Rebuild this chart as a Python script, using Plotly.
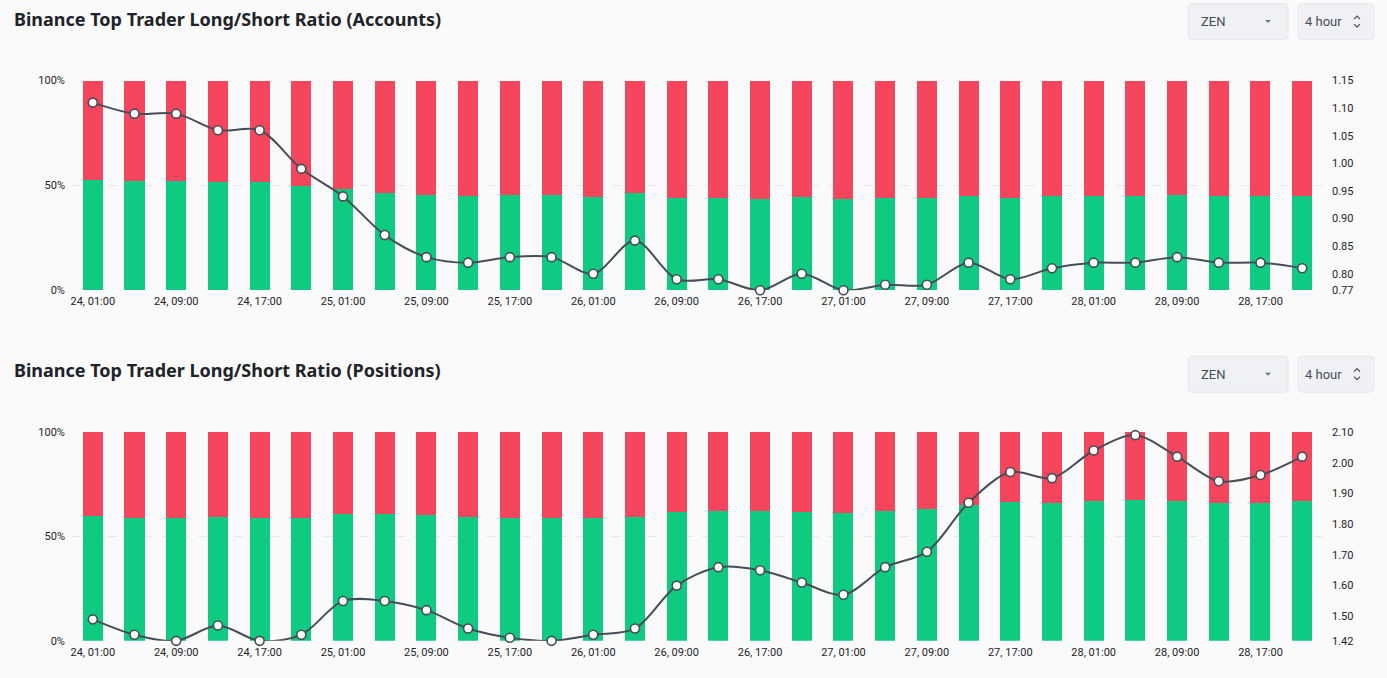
import plotly.graph_objects as go

W, H = 1387, 678

categories = ["24, 01:00", "24, 05:00", "24, 09:00", "24, 13:00", "24, 17:00", "24, 21:00",
              "25, 01:00", "25, 05:00", "25, 09:00", "25, 13:00", "25, 17:00", "25, 21:00",
              "26, 01:00", "26, 05:00", "26, 09:00", "26, 13:00", "26, 17:00", "26, 21:00",
              "27, 01:00", "27, 05:00", "27, 09:00", "27, 13:00", "27, 17:00", "27, 21:00",
              "28, 01:00", "28, 05:00", "28, 09:00", "28, 13:00", "28, 17:00", "28, 21:00"]
x_tick_labels = ["24, 01:00", "24, 09:00", "24, 17:00", "25, 01:00", "25, 09:00", "25, 17:00",
                 "26, 01:00", "26, 09:00", "26, 17:00", "27, 01:00", "27, 09:00", "27, 17:00",
                 "28, 01:00", "28, 09:00", "28, 17:00"]

# Chart 1: accounts
acc_long = [52.6, 52.2, 52.2, 51.5, 51.5, 49.7, 48.5, 46.5, 45.4, 45.1, 45.4, 45.4, 44.4, 46.2, 44.1,
            44.1, 43.5, 44.4, 43.5, 43.8, 43.8, 45.1, 44.1, 44.8, 45.1, 45.1, 45.4, 45.1, 45.1, 44.8]
acc_short = [47.4, 47.8, 47.8, 48.5, 48.5, 50.3, 51.5, 53.5, 54.6, 54.9, 54.6, 54.6, 55.6, 53.8, 55.9,
             55.9, 56.5, 55.6, 56.5, 56.2, 56.2, 54.9, 55.9, 55.2, 54.9, 54.9, 54.6, 54.9, 54.9, 55.2]
acc_ratio = [1.11, 1.09, 1.09, 1.06, 1.06, 0.99, 0.94, 0.87, 0.83, 0.82, 0.83, 0.83, 0.80, 0.86, 0.79,
             0.79, 0.77, 0.80, 0.77, 0.78, 0.78, 0.82, 0.79, 0.81, 0.82, 0.82, 0.83, 0.82, 0.82, 0.81]
acc_ratio_ticks = [0.77, 0.80, 0.85, 0.90, 0.95, 1.00, 1.05, 1.10, 1.15]

# Chart 2: positions
pos_long = [59.8, 59.0, 58.7, 59.5, 58.7, 59.0, 60.8, 60.8, 60.3, 59.3, 58.8, 58.7, 59.0, 59.3, 61.5,
            62.4, 62.3, 61.7, 61.1, 62.4, 63.1, 65.2, 66.3, 66.1, 67.1, 67.6, 66.9, 66.0, 66.2, 66.9]
pos_short = [40.2, 41.0, 41.3, 40.5, 41.3, 41.0, 39.2, 39.2, 39.7, 40.7, 41.2, 41.3, 41.0, 40.7, 38.5,
             37.6, 37.7, 38.3, 38.9, 37.6, 36.9, 34.8, 33.7, 33.9, 32.9, 32.4, 33.1, 34.0, 33.8, 33.1]
pos_ratio = [1.49, 1.44, 1.42, 1.47, 1.42, 1.44, 1.55, 1.55, 1.52, 1.46, 1.43, 1.42, 1.44, 1.46, 1.60,
             1.66, 1.65, 1.61, 1.57, 1.66, 1.71, 1.87, 1.97, 1.95, 2.04, 2.09, 2.02, 1.94, 1.96, 2.02]
pos_ratio_ticks = [1.42, 1.50, 1.60, 1.70, 1.80, 1.90, 2.00, 2.10]

pct_ticks = [0, 50, 100]
pct_labels = ["0%", "50%", "100%"]

titles = ["Binance Top Trader Long/Short Ratio (Accounts)",
          "Binance Top Trader Long/Short Ratio (Positions)"]
symbol = "ZEN"
interval = "4 hour"

GREEN = "#0ecb81"
RED = "#f6465d"
LINE = "#474d57"
BG = "#fafafa"
TICK_FONT = dict(family="Roboto, DejaVu Sans", size=11, color="#1e2329")


def px(x):
    return x / W


def py(y):
    yd = (y - 5.4) / 0.982
    return 1 - yd / H


fig = go.Figure()

panels = [
    dict(long=acc_long, short=acc_short, ratio=acc_ratio, rticks=acc_ratio_ticks,
         rrange=[0.77, 1.15], top=80, bottom=290, title_y=18, box_y=(3, 39)),
    dict(long=pos_long, short=pos_short, ratio=pos_ratio, rticks=pos_ratio_ticks,
         rrange=[1.42, 2.10], top=432, bottom=641, title_y=370, box_y=(356, 392)),
]

x_left, x_right = 71, 1323
shapes = []
annotations = []

for i, p in enumerate(panels):
    xa = "x" if i == 0 else "x2"
    ya_l = "y" if i == 0 else "y3"
    ya_r = "y2" if i == 0 else "y4"
    fig.add_trace(go.Bar(x=categories, y=p["long"], marker=dict(color=GREEN, line=dict(width=0)),
                         xaxis=xa, yaxis=ya_l, name="Long", showlegend=False, hoverinfo="skip"))
    fig.add_trace(go.Bar(x=categories, y=p["short"], marker=dict(color=RED, line=dict(width=0)),
                         xaxis=xa, yaxis=ya_l, name="Short", showlegend=False, hoverinfo="skip"))
    fig.add_trace(go.Scatter(x=categories, y=p["ratio"], mode="lines+markers",
                             line=dict(color=LINE, width=2, shape="spline", smoothing=0.9),
                             marker=dict(size=9, color="white", line=dict(color=LINE, width=1.6)),
                             cliponaxis=False, xaxis=xa, yaxis=ya_r, showlegend=False,
                             hoverinfo="skip"))

    dom_y = [py(p["bottom"]), py(p["top"])]
    xkey = "xaxis" if i == 0 else "xaxis2"
    ylkey = "yaxis" if i == 0 else "yaxis3"
    yrkey = "yaxis2" if i == 0 else "yaxis4"
    fig.layout[xkey] = dict(domain=[px(x_left), px(x_right)], anchor=ya_l, type="category",
                            range=[-0.5, len(categories) - 0.5], tickmode="array",
                            tickvals=x_tick_labels, ticktext=x_tick_labels, tickfont=TICK_FONT,
                            showgrid=False, showline=False, zeroline=False, ticks="",
                            ticklabelstandoff=3, fixedrange=True)
    fig.layout[ylkey] = dict(domain=dom_y, anchor=xa, range=[0, 100], tickmode="array",
                             tickvals=pct_ticks, ticktext=pct_labels, tickfont=TICK_FONT,
                             showgrid=True, gridcolor="#e6e8ea", griddash="dash", gridwidth=1,
                             zeroline=False, showline=False, ticks="", ticklabelstandoff=6,
                             fixedrange=True)
    fig.layout[yrkey] = dict(domain=dom_y, anchor=xa, overlaying=ya_l, side="right",
                             range=p["rrange"], tickmode="array", tickvals=p["rticks"],
                             tickformat=".2f", tickfont=TICK_FONT, showgrid=False,
                             zeroline=False, showline=False, ticks="", ticklabelstandoff=8,
                             fixedrange=True)

    annotations.append(dict(text="<b>" + titles[i] + "</b>", x=px(11), y=py(p["title_y"]),
                            xref="paper", yref="paper", xanchor="left", yanchor="middle",
                            showarrow=False,
                            font=dict(family="Noto Sans, Open Sans", size=18, color="#1e2329")))

    # dropdown boxes
    y0, y1 = p["box_y"]
    for (bx0, bx1) in [(1188, 1288), (1298, 1374)]:
        r = 4
        pts = [
            f"M{px(bx0 + r)},{py(y0)}", f"L{px(bx1 - r)},{py(y0)}",
            f"Q{px(bx1)},{py(y0)} {px(bx1)},{py(y0 + r)}", f"L{px(bx1)},{py(y1 - r)}",
            f"Q{px(bx1)},{py(y1)} {px(bx1 - r)},{py(y1)}", f"L{px(bx0 + r)},{py(y1)}",
            f"Q{px(bx0)},{py(y1)} {px(bx0)},{py(y1 - r)}", f"L{px(bx0)},{py(y0 + r)}",
            f"Q{px(bx0)},{py(y0)} {px(bx0 + r)},{py(y0)}", "Z",
        ]
        shapes.append(dict(type="path", xref="paper", yref="paper", path=" ".join(pts),
                           fillcolor="#eff1f4", line=dict(color="#e3e6ea", width=1), layer="below"))
    cy = (y0 + y1) / 2
    annotations.append(dict(text=symbol, x=px(1199), y=py(cy), xref="paper", yref="paper",
                            xanchor="left", yanchor="middle", showarrow=False,
                            font=dict(family="Roboto", size=13, color="#474d57")))
    annotations.append(dict(text=interval, x=px(1303), y=py(cy), xref="paper", yref="paper",
                            xanchor="left", yanchor="middle", showarrow=False,
                            font=dict(family="Roboto", size=13, color="#474d57")))
    # small caret for symbol box
    shapes.append(dict(type="path", xref="paper", yref="paper",
                       path=f"M{px(1265)},{py(cy - 1.5)} L{px(1271)},{py(cy - 1.5)} L{px(1268)},{py(cy + 1.5)} Z",
                       fillcolor="#707a8a", line=dict(width=0)))
    # up/down chevrons for interval box
    shapes.append(dict(type="path", xref="paper", yref="paper",
                       path=f"M{px(1354)},{py(cy - 2.5)} L{px(1357)},{py(cy - 5.5)} L{px(1360)},{py(cy - 2.5)}",
                       line=dict(color="#474d57", width=1.2)))
    shapes.append(dict(type="path", xref="paper", yref="paper",
                       path=f"M{px(1354)},{py(cy + 2.5)} L{px(1357)},{py(cy + 5.5)} L{px(1360)},{py(cy + 2.5)}",
                       line=dict(color="#474d57", width=1.2)))

fig.update_layout(
    width=W, height=H, margin=dict(l=0, r=0, t=0, b=0),
    barmode="stack", bargap=0.52,
    paper_bgcolor=BG, plot_bgcolor=BG,
    shapes=shapes, annotations=annotations,
    showlegend=False,
)

fig.write_html("out.html", config={"displayModeBar": False},
               post_script="document.body.style.margin='0';document.body.style.overflow='hidden';")
